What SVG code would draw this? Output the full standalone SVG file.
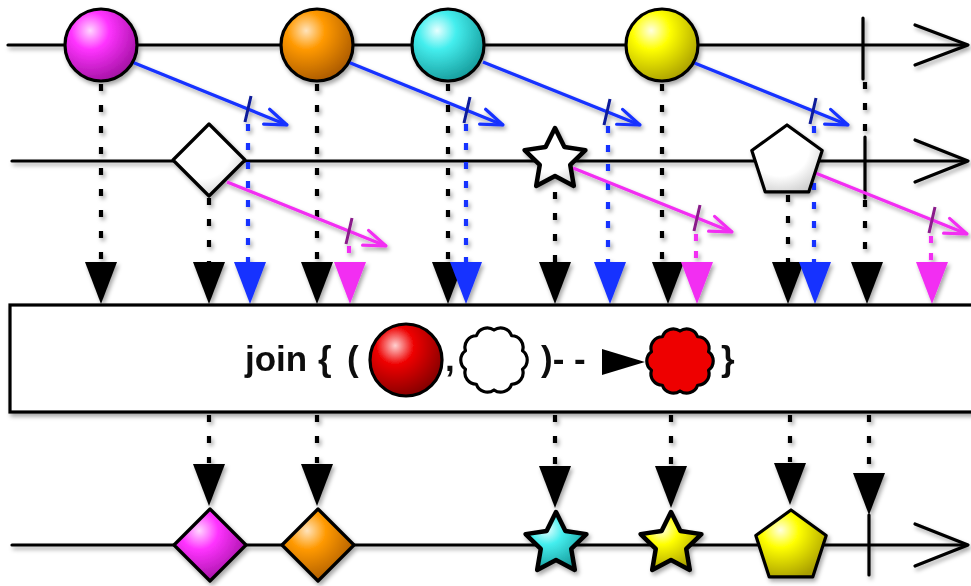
<svg xmlns="http://www.w3.org/2000/svg" xmlns:xlink="http://www.w3.org/1999/xlink" width="971" height="586" viewBox="0 0 971 586">
<defs>
  <filter id="sh" x="-20%" y="-20%" width="140%" height="150%">
    <feDropShadow dx="2" dy="3" stdDeviation="2.2" flood-color="#000" flood-opacity="0.35"/>
  </filter>
  <radialGradient id="gMag" cx="0.35" cy="0.3" r="0.75"><stop offset="0" stop-color="#ffd6ff"/><stop offset="0.35" stop-color="#ff33ff"/><stop offset="1" stop-color="#a010a0"/></radialGradient>
  <radialGradient id="gOra" cx="0.35" cy="0.3" r="0.75"><stop offset="0" stop-color="#ffe3bb"/><stop offset="0.35" stop-color="#ff9900"/><stop offset="1" stop-color="#a85800"/></radialGradient>
  <radialGradient id="gCya" cx="0.35" cy="0.3" r="0.75"><stop offset="0" stop-color="#e6ffff"/><stop offset="0.35" stop-color="#44eeee"/><stop offset="1" stop-color="#159a9a"/></radialGradient>
  <radialGradient id="gYel" cx="0.35" cy="0.3" r="0.75"><stop offset="0" stop-color="#ffffe0"/><stop offset="0.35" stop-color="#ffff00"/><stop offset="1" stop-color="#a89e00"/></radialGradient>
  <radialGradient id="gRed" cx="0.35" cy="0.3" r="0.75"><stop offset="0" stop-color="#ffd0d0"/><stop offset="0.35" stop-color="#ee0000"/><stop offset="1" stop-color="#800000"/></radialGradient>
  <radialGradient id="gWht" cx="0.4" cy="0.35" r="0.75"><stop offset="0" stop-color="#ffffff"/><stop offset="0.55" stop-color="#ffffff"/><stop offset="1" stop-color="#c8c8c8"/></radialGradient>
  <polygon id="star" points="0,-32 9.41,-12.94 30.43,-9.89 15.22,4.94 18.81,25.89 0,16 -18.81,25.89 -15.22,4.94 -30.43,-9.89 -9.41,-12.94"/>
  <polygon id="pent" points="0,-37 35.19,-11.43 21.75,29.93 -21.75,29.93 -35.19,-11.43"/>
  <polygon id="dia" points="0,-36 36,0 0,36 -36,0"/>
  <polygon id="tri" points="-16,0 16,0 0,42"/>
  <path id="cloud" d="M0,-30 A11.5,11.5 0 0 1 17.63,-24.27 A11.5,11.5 0 0 1 28.53,-9.27 A11.5,11.5 0 0 1 28.53,9.27 A11.5,11.5 0 0 1 17.63,24.27 A11.5,11.5 0 0 1 0,30 A11.5,11.5 0 0 1 -17.63,24.27 A11.5,11.5 0 0 1 -28.53,9.27 A11.5,11.5 0 0 1 -28.53,-9.27 A11.5,11.5 0 0 1 -17.63,-24.27 A11.5,11.5 0 0 1 0,-30 Z"/>
  <marker id="arrB" viewBox="-26 -12 30 24" refX="0" refY="0" markerWidth="30" markerHeight="24" markerUnits="userSpaceOnUse" orient="auto">
    <path d="M-22,-8 L0,0 L-22,8" fill="none" stroke="#1530ff" stroke-width="3.2" stroke-linecap="round" stroke-linejoin="round"/>
  </marker>
  <marker id="arrM" viewBox="-26 -12 30 24" refX="0" refY="0" markerWidth="30" markerHeight="24" markerUnits="userSpaceOnUse" orient="auto">
    <path d="M-22,-8 L0,0 L-22,8" fill="none" stroke="#f22ef2" stroke-width="3.2" stroke-linecap="round" stroke-linejoin="round"/>
  </marker>
</defs>
<style>
  .axis{fill:none;stroke:#000;stroke-width:3.2;stroke-linecap:round;stroke-linejoin:round}
  .shape{stroke:#000;stroke-width:3.2;stroke-linejoin:round}
  .thick{stroke-width:4.5}
  .dotK{stroke:#000;stroke-width:4.2;stroke-dasharray:7 14;fill:none}
  .dotB{stroke:#1530ff;stroke-width:4.2;stroke-dasharray:7 12;fill:none}
  .dotM{stroke:#f22ef2;stroke-width:4.2;stroke-dasharray:7 10;fill:none}
  .durB{stroke:#1530ff;stroke-width:3.2;fill:none;marker-end:url(#arrB)}
  .durM{stroke:#f22ef2;stroke-width:3.2;fill:none;marker-end:url(#arrM)}
  .tickB{stroke:#0a1a99;stroke-width:3}
  .tickM{stroke:#8a1a8a;stroke-width:3}
  .tk{fill:#000}
  .tb{fill:#1530ff}
  .tm{fill:#f22ef2}
  .lbl{font-family:"Liberation Sans",Arial,sans-serif;font-weight:bold;font-size:35px;fill:#111}
</style>

<g filter="url(#sh)">
<!-- timelines -->
<g id="timeline-left">
  <path class="axis" d="M8,45 H966"/>
  <polyline class="axis" points="915,25 968,45 915,65"/>
  <path class="axis" d="M863,18 V79"/>
</g>
<g id="timeline-right">
  <path class="axis" d="M12,161 H966"/>
  <polyline class="axis" points="915,140 968,161 915,182"/>
  <path class="axis" d="M865,137 V198"/>
</g>
<g id="timeline-result">
  <path class="axis" d="M12,545 H966"/>
  <polyline class="axis" points="915,524 968,545 915,566"/>
  <path class="axis" d="M869,515 V575"/>
</g>

<!-- connectors -->
<g id="connectors">
  <path class="dotK" d="M101,84 V262 M317,84 V262 M448,84 V262 M662,84 V262 M865,82 V135 M865,200 V262"/>
  <path class="dotK" d="M209,198 V262 M555,192 V262 M788,195 V262"/>
  <path class="durB" d="M132,62 L287,125"/>
  <path class="durB" d="M348,62 L503,125"/>
  <path class="durB" d="M483,62 L640,125"/>
  <path class="durB" d="M692,62 L848,125"/>
  <path class="tickB" d="M251,96 L245,122 M470,97 L464,123 M610,99 L604,125 M816,98 L810,124"/>
  <path class="dotB" d="M248,124 V262 M466,124 V262 M608,126 V262 M814,126 V262"/>
  <path class="durM" d="M227,182 L386,246"/>
  <path class="durM" d="M573,168 L732,232"/>
  <path class="durM" d="M808,170 L967,234"/>
  <path class="tickM" d="M352,218 L346,244 M700,205 L694,231 M935,207 L929,233"/>
  <path class="dotM" d="M349,246 V262 M696,234 V262 M931,236 V262"/>
  <use href="#tri" class="tk" x="101" y="262"/>
  <use href="#tri" class="tk" x="209" y="262"/>
  <use href="#tri" class="tb" x="250" y="262"/>
  <use href="#tri" class="tk" x="317" y="262"/>
  <use href="#tri" class="tm" x="350" y="262"/>
  <use href="#tri" class="tk" x="448" y="262"/>
  <use href="#tri" class="tb" x="466" y="262"/>
  <use href="#tri" class="tk" x="555" y="262"/>
  <use href="#tri" class="tb" x="610" y="262"/>
  <use href="#tri" class="tk" x="668" y="262"/>
  <use href="#tri" class="tm" x="697" y="262"/>
  <use href="#tri" class="tk" x="788" y="262"/>
  <use href="#tri" class="tb" x="815" y="262"/>
  <use href="#tri" class="tk" x="867" y="262"/>
  <use href="#tri" class="tm" x="932" y="262"/>
  <path class="dotK" d="M209,415 V463 M317,415 V463 M555,415 V464 M671,415 V464 M790,415 V462 M869,415 V473"/>
  <use href="#tri" class="tk" x="209" y="464"/>
  <use href="#tri" class="tk" x="317" y="464"/>
  <use href="#tri" class="tk" x="555" y="466"/>
  <use href="#tri" class="tk" x="671" y="466"/>
  <use href="#tri" class="tk" x="790" y="463"/>
  <use href="#tri" class="tk" x="869" y="473"/>
</g>

<!-- left source items -->
<g id="left-1"><circle class="shape" cx="101" cy="45" r="36" fill="url(#gMag)"/></g>
<g id="left-2"><circle class="shape" cx="317" cy="45" r="36" fill="url(#gOra)"/></g>
<g id="left-3"><circle class="shape" cx="448" cy="45" r="36" fill="url(#gCya)"/></g>
<g id="left-4"><circle class="shape" cx="662" cy="45" r="36" fill="url(#gYel)"/></g>

<!-- right source items -->
<g id="right-1"><use href="#dia" class="shape" x="209" y="160" fill="url(#gWht)"/></g>
<g id="right-2"><use href="#star" class="shape thick" x="555" y="160" fill="url(#gWht)"/></g>
<g id="right-3"><use href="#pent" class="shape" x="787" y="162" fill="url(#gWht)"/></g>

<!-- operator box -->
<g id="operator">
  <rect x="10" y="305" width="985" height="107" fill="#fff" stroke="#000" stroke-width="3.2"/>
  <text class="lbl" x="245" y="371">join</text>
  <text class="lbl" x="318" y="371">{</text>
  <text class="lbl" x="347" y="371">(</text>
  <circle class="shape" cx="406" cy="360" r="36" fill="url(#gRed)"/>
  <text class="lbl" x="445" y="371">,</text>
  <use href="#cloud" class="shape" x="494" y="360" fill="#fff"/>
  <text class="lbl" x="541" y="371">)- -</text>
  <polygon points="602,349 645,362 602,375" fill="#000"/>
  <use href="#cloud" class="shape" x="680" y="361" fill="#ee0000"/>
  <text class="lbl" x="721" y="371">}</text>
</g>

<!-- result items -->
<g id="out-1"><use href="#dia" class="shape" x="210" y="545" fill="url(#gMag)"/></g>
<g id="out-2"><use href="#dia" class="shape" x="318" y="545" fill="url(#gOra)"/></g>
<g id="out-3"><use href="#star" class="shape thick" x="556" y="544" fill="url(#gCya)"/></g>
<g id="out-4"><use href="#star" class="shape thick" x="671" y="544" fill="url(#gYel)"/></g>
<g id="out-5"><use href="#pent" class="shape" x="791" y="547" fill="url(#gYel)"/></g>
</g>
</svg>
